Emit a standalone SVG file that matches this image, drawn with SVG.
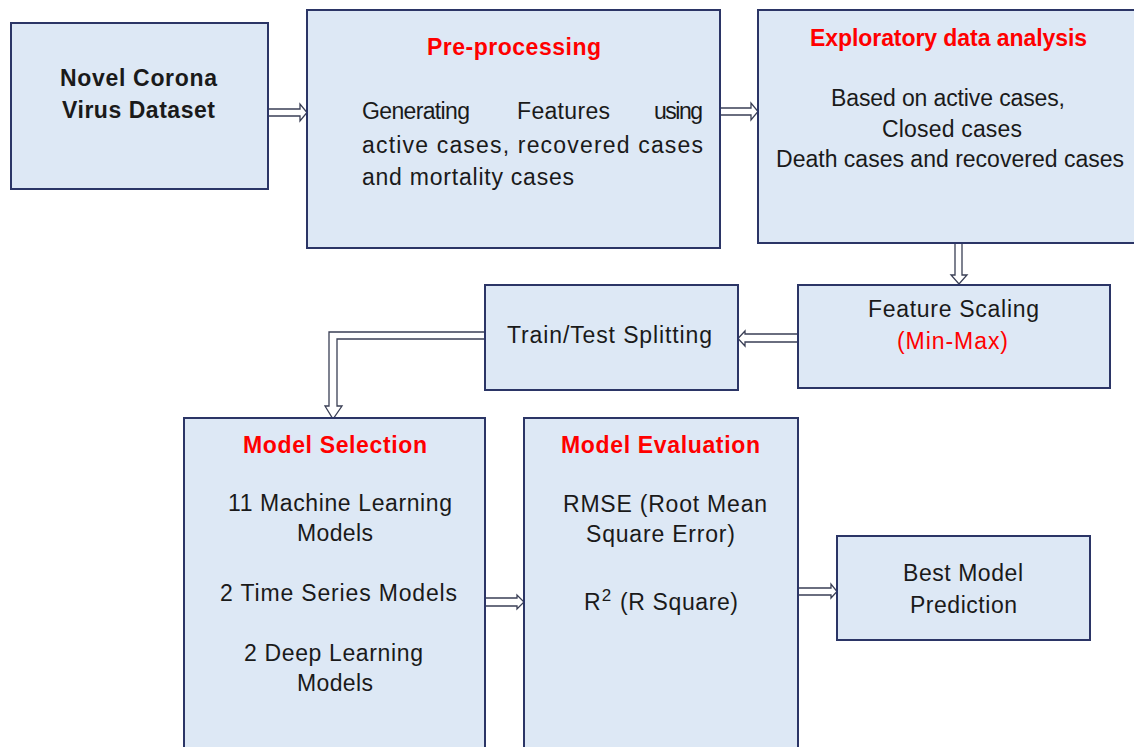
<svg xmlns="http://www.w3.org/2000/svg" width="1134" height="747" viewBox="0 0 1134 747">
<style>
.box{fill:#dde8f5;stroke:#2b3566;stroke-width:2}
.arr{fill:#ffffff;stroke:#3a3f55;stroke-width:1.3;stroke-linejoin:miter}
text{font-family:"Liberation Sans",Arial,sans-serif;font-size:23px;fill:#1a1a1a}
.c{text-anchor:middle}
.b{font-weight:bold}
.red{fill:#ff0000}
</style>
<rect x="0" y="0" width="1134" height="747" fill="#ffffff"/>
<g id="connectors">
<polygon class="arr" points="268,109 300,109 300,104 307,112.5 300,121 300,116 268,116"/>
<polygon class="arr" points="720,108 751,108 751,103 758,111.5 751,120 751,115 720,115"/>
<polygon class="arr" points="955,243 962,243 962,275 967,275 959,284 951,275 955,275"/>
<polygon class="arr" points="798,334 745,334 745,331 738,338.5 745,346 745,342 798,342"/>
<polygon class="arr" points="485,332 329,332 329,406 325,406 333,419 342,406 337,406 337,339 485,339"/>
<polygon class="arr" points="485,598 517,598 517,595 524,602 517,609 517,606 485,606"/>
<polygon class="arr" points="798,588 831,588 831,584 837,591.5 831,598 831,595 798,595"/>
</g>
<g id="dataset">
<rect class="box" x="11" y="23" width="257" height="166"/>
<text class="c b" x="138.5" y="86" textLength="157" lengthAdjust="spacing">Novel Corona</text>
<text class="c b" x="138.5" y="118" textLength="153" lengthAdjust="spacing">Virus Dataset</text>
</g>
<g id="preprocessing">
<rect class="box" x="307" y="10" width="413" height="238"/>
<text class="c b red" x="514" y="55" textLength="174" lengthAdjust="spacing">Pre-processing</text>
<text x="362" y="119" textLength="108" lengthAdjust="spacing">Generating</text>
<text x="517" y="119" textLength="93" lengthAdjust="spacing">Features</text>
<text x="654" y="119" textLength="49" lengthAdjust="spacing">using</text>
<text x="362" y="153" textLength="341" lengthAdjust="spacing">active cases, recovered cases</text>
<text x="362" y="185" textLength="212" lengthAdjust="spacing">and mortality cases</text>
</g>
<g id="eda">
<rect class="box" x="758" y="10" width="380" height="233"/>
<text class="c b red" x="948.5" y="46" textLength="277" lengthAdjust="spacing">Exploratory data analysis</text>
<text class="c" x="948" y="106" textLength="234" lengthAdjust="spacing">Based on active cases,</text>
<text class="c" x="952" y="137" textLength="140" lengthAdjust="spacing">Closed cases</text>
<text class="c" x="950" y="167" textLength="348" lengthAdjust="spacing">Death cases and recovered cases</text>
</g>
<g id="scaling">
<rect class="box" x="798" y="285" width="312" height="103"/>
<text class="c" x="953.5" y="317" textLength="171" lengthAdjust="spacing">Feature Scaling</text>
<text class="c red" x="952.5" y="349" textLength="111" lengthAdjust="spacing">(Min-Max)</text>
</g>
<g id="split">
<rect class="box" x="485" y="285" width="253" height="105"/>
<text class="c" x="609.5" y="343" textLength="205" lengthAdjust="spacing">Train/Test Splitting</text>
</g>
<g id="selection">
<rect class="box" x="184" y="418" width="301" height="340"/>
<text class="c b red" x="335" y="453" textLength="184" lengthAdjust="spacing">Model Selection</text>
<text class="c" x="340" y="511" textLength="224" lengthAdjust="spacing">11 Machine Learning</text>
<text class="c" x="335" y="541" textLength="76" lengthAdjust="spacing">Models</text>
<text class="c" x="338.5" y="601" textLength="237" lengthAdjust="spacing">2 Time Series Models</text>
<text class="c" x="333.5" y="661" textLength="179" lengthAdjust="spacing">2 Deep Learning</text>
<text class="c" x="335" y="691" textLength="76" lengthAdjust="spacing">Models</text>
</g>
<g id="evaluation">
<rect class="box" x="524" y="418" width="274" height="340"/>
<text class="c b red" x="660.5" y="453" textLength="199" lengthAdjust="spacing">Model Evaluation</text>
<text class="c" x="665" y="512" textLength="204" lengthAdjust="spacing">RMSE (Root Mean</text>
<text class="c" x="660.5" y="542" textLength="149" lengthAdjust="spacing">Square Error)</text>
<text x="584" y="610">R<tspan font-size="17" dy="-9" dx="1">2</tspan><tspan dy="9" dx="2" letter-spacing="0.6"> (R Square)</tspan></text>
</g>
<g id="best">
<rect class="box" x="837" y="536" width="253" height="104"/>
<text class="c" x="963" y="581" textLength="120" lengthAdjust="spacing">Best Model</text>
<text class="c" x="963.5" y="613" textLength="107" lengthAdjust="spacing">Prediction</text>
</g>
</svg>
